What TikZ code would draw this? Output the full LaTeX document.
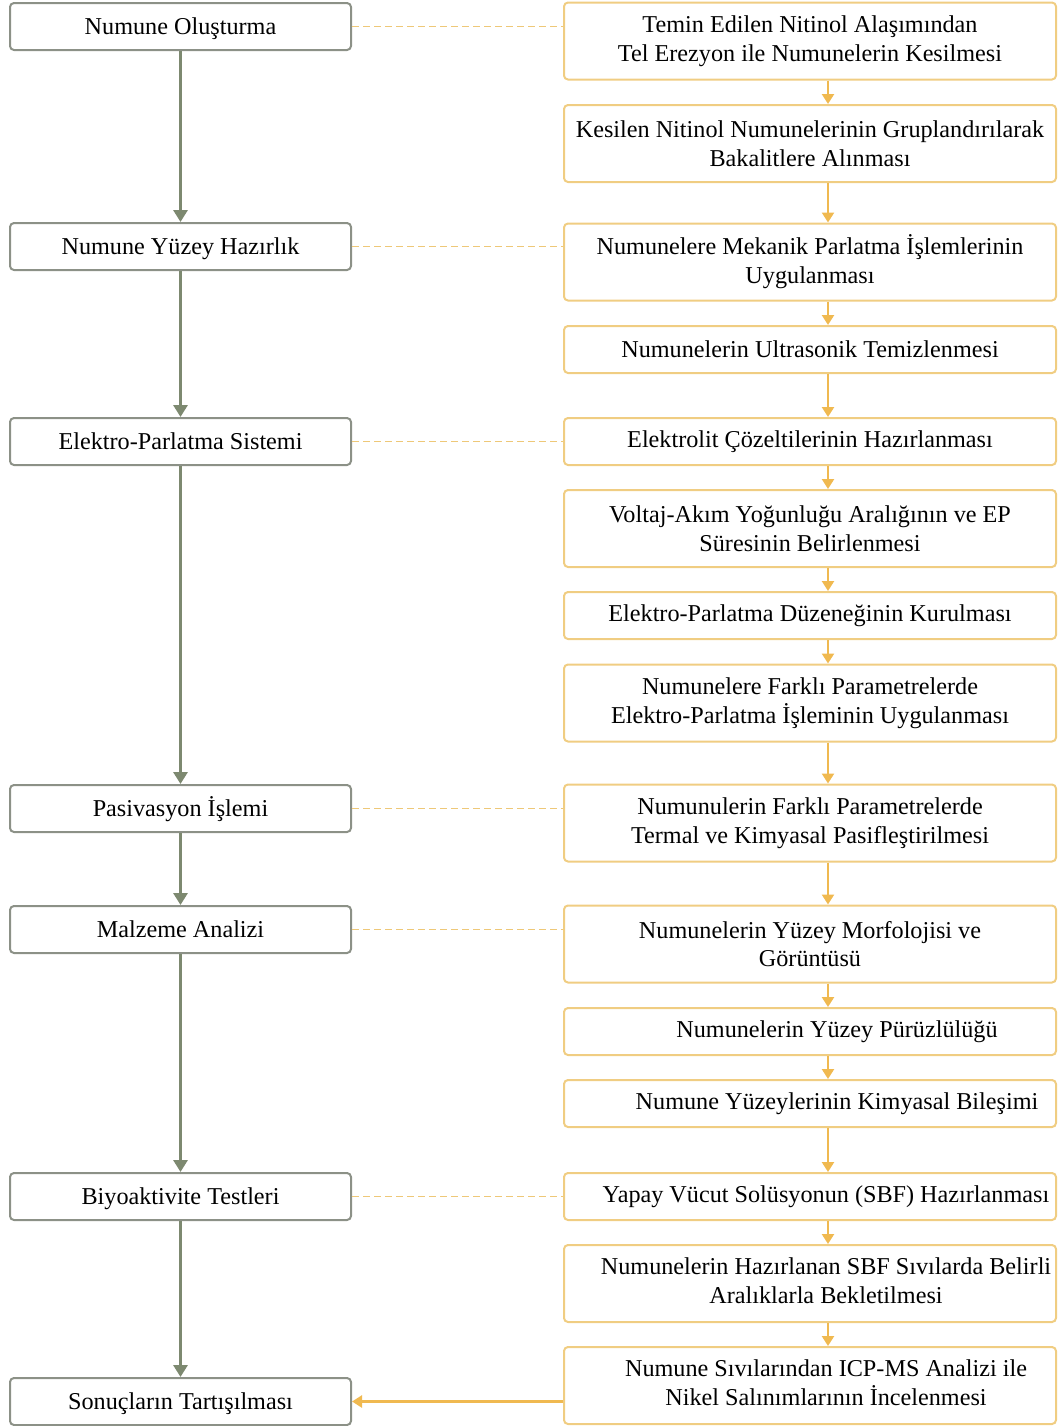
\documentclass[tikz,border=0pt]{standalone}
\usepackage{fontspec}
\setmainfont{Liberation Serif}
\usepackage{tikz}
\usetikzlibrary{arrows.meta}
\definecolor{leftline}{RGB}{140,145,135}
\definecolor{leftarrow}{RGB}{125,137,112}
\definecolor{rightline}{RGB}{240,205,130}
\definecolor{rightarrow}{RGB}{240,185,80}
\definecolor{dashline}{RGB}{238,200,120}
\tikzstyle{leftbox}=[draw=leftline,line width=1pt,rounded corners=2pt,
                     minimum width=170.5pt,minimum height=23.5pt,inner sep=2pt,
                     text height=9.5pt,text depth=2pt]
\tikzstyle{rightbox}=[draw=rightline,line width=1pt,rounded corners=2pt,
                      minimum width=246pt,minimum height=23.5pt,inner sep=2pt,align=center]
\tikzstyle{tallbox}=[rightbox,minimum height=38.5pt]
\tikzstyle{greenarrow}=[draw=leftarrow,line width=1.6pt,
                        -{Triangle[width=7pt,length=6pt]}]
\tikzstyle{goldarrow}=[draw=rightarrow,line width=1.2pt,
                       -{Triangle[width=6pt,length=5pt]}]
\tikzstyle{dashlink}=[draw=dashline,line width=0.9pt,dash pattern=on 3.5pt off 2pt]
\newcommand{\shifted}[2]{\hspace*{#1}\begin{tabular}{@{}c@{}}#2\end{tabular}}

\begin{document}
\begin{tikzpicture}[x=0.5pt,y=-0.5pt,font=\fontsize{12.1}{14.4}\selectfont]
    \useasboundingbox (0,0) rectangle (1062,1426);
    % main steps
    \node (l1) at (180.5,  26.5) [leftbox]{Numune Oluşturma};
    \node (l2) at (180.5, 246.5) [leftbox]{Numune Yüzey Hazırlık};
    \node (l3) at (180.5, 441.5) [leftbox]{Elektro-Parlatma Sistemi};
    \node (l4) at (180.5, 808.5) [leftbox]{Pasivasyon İşlemi};
    \node (l5) at (180.5, 929.5) [leftbox]{Malzeme Analizi};
    \node (l6) at (180.5,1196.5) [leftbox]{Biyoaktivite Testleri};
    \node (l7) at (180.5,1401.5) [leftbox]{Sonuçların Tartışılması};
    % sub steps
    \node (r1) at (810,  41) [tallbox]{Temin Edilen Nitinol Alaşımından\\Tel Erezyon ile Numunelerin Kesilmesi};
    \node (r2) at (810, 143.5) [tallbox]{Kesilen Nitinol Numunelerinin Gruplandırılarak\\Bakalitlere Alınması};
    \node (r3) at (810, 262) [tallbox]{Numunelere Mekanik Parlatma İşlemlerinin\\Uygulanması};
    \node (r4) at (810, 349.5) [rightbox]{Numunelerin Ultrasonik Temizlenmesi};
    \node (r5) at (810, 441.5) [rightbox]{Elektrolit Çözeltilerinin Hazırlanması};
    \node (r6) at (810, 528.5) [tallbox]{Voltaj-Akım Yoğunluğu Aralığının ve EP\\Süresinin Belirlenmesi};
    \node (r7) at (810, 615.5) [rightbox]{Elektro-Parlatma Düzeneğinin Kurulması};
    \node (r8) at (810, 703) [tallbox]{Numunelere Farklı Parametrelerde\\Elektro-Parlatma İşleminin Uygulanması};
    \node (r9) at (810, 823) [tallbox]{Numunulerin Farklı Parametrelerde\\Termal ve Kimyasal Pasifleştirilmesi};
    \node (r10) at (810, 944) [tallbox]{Numunelerin Yüzey Morfolojisi ve\\Görüntüsü};
    \node (r11) at (810,1031.5) [rightbox]{\shifted{27pt}{Numunelerin Yüzey Pürüzlülüğü}};
    \node (r12) at (810,1103.5) [rightbox]{\shifted{27pt}{Numune Yüzeylerinin Kimyasal Bileşimi}};
    \node (r13) at (810,1196.5) [rightbox]{\shifted{16pt}{Yapay Vücut Solüsyonun (SBF) Hazırlanması}};
    \node (r14) at (810,1283.5) [tallbox]{\shifted{16pt}{Numunelerin Hazırlanan SBF Sıvılarda Belirli\\Aralıklarla Bekletilmesi}};
    \node (r15) at (810,1385.5) [tallbox]{\shifted{16pt}{Numune Sıvılarından ICP-MS Analizi ile\\Nikel Salınımlarının İncelenmesi}};
    % connectors
    \foreach \a/\b in {l1/l2,l2/l3,l3/l4,l4/l5,l5/l6,l6/l7}
        \draw[greenarrow] (\a.south) -- (\b.north);
    \foreach \a/\b in {r1/r2,r2/r3,r3/r4,r4/r5,r5/r6,r6/r7,r7/r8,r8/r9,
                       r9/r10,r10/r11,r11/r12,r12/r13,r13/r14,r14/r15}
        \draw[goldarrow] ([xshift=9pt]\a.south) -- ([xshift=9pt]\b.north);
    \foreach \a/\b in {l1/r1,l2/r3,l3/r5,l4/r9,l5/r10,l6/r13}
        \draw[dashlink] (\a.east) -- (\a.east -| \b.west);
    \draw[goldarrow] (l7.east -| r15.west) -- (l7.east);
  \end{tikzpicture}
\end{document}
